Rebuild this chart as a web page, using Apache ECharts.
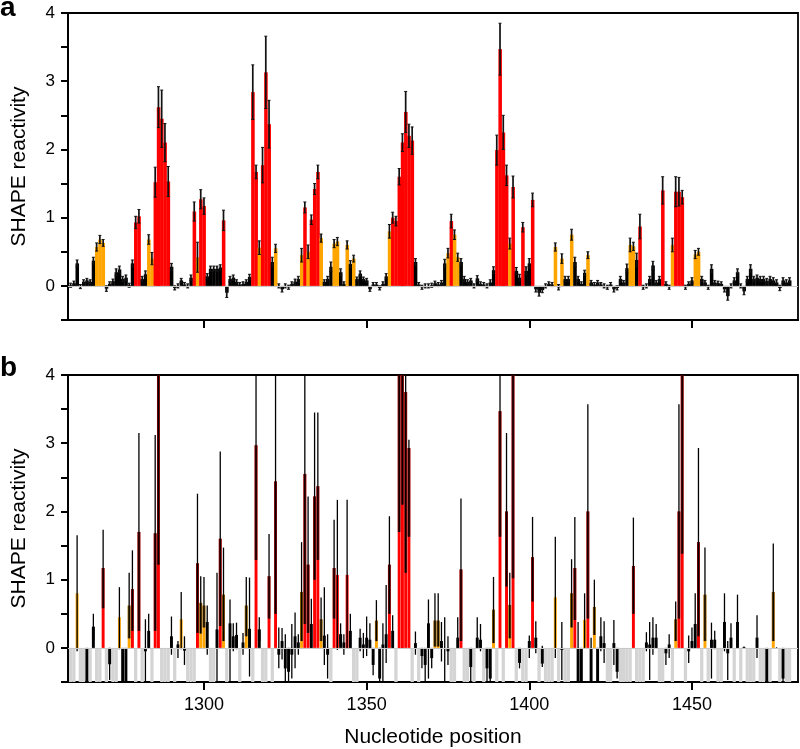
<!DOCTYPE html>
<html>
<head>
<meta charset="utf-8">
<script src="https://cdn.jsdelivr.net/npm/echarts@6/dist/echarts.min.js"></script>
<style>
  html, body { margin: 0; background: #fff; }
  #chart { width: 800px; height: 749px; }
</style>
</head>
<body>
<div id="chart"></div>
<script>
// nucleotide numbering of the first bar
const firstNt = 1259;
const xTicks = [1300, 1350, 1400, 1450];

// panel a: SHAPE reactivity and its error, one value per nucleotide (1259-1480)
const aVal = [
  0.01, 0.04, 0.33, -0.01, 0.06, 0.08, 0.06, 0.37, 0.57, 0.68,
  0.63, -0.04, 0.03, 0.07, 0.2, 0.24, 0.1, 0.12, 0.01, 0.33,
  0.93, 1.02, 0.1, 0.17, 0.68, 0.4, 1.52, 2.62, 2.45, 2.1,
  1.53, 0.28, -0.03, 0.0, 0.08, 0.02, 0.0, 0.12, 1.09, 0.42,
  1.27, 1.17, 0.14, 0.25, 0.25, 0.25, 0.27, 0.96, -0.1, 0.1,
  0.12, 0.06, 0.02, 0.03, 0.06, 0.13, 2.84, 1.67, 0.56, 1.77,
  3.13, 2.37, 0.35, 0.55, 0.0, -0.05, 0.0, -0.02, 0.03, 0.06,
  0.1, 0.45, 1.15, 0.5, 0.97, 1.42, 1.67, 0.7, 0.06, 0.1,
  0.28, 0.62, 0.65, 0.2, 0.03, 0.6, 0.32, 0.4, 0.1, 0.18,
  0.1, 0.08, -0.05, 0.02, 0.02, -0.03, 0.03, 0.14, 0.8, 1.0,
  0.95, 1.6, 2.1, 2.55, 2.2, 2.13, 0.35, 0.02, -0.02, 0.0,
  0.0, 0.01, 0.04, 0.02, 0.05, 0.33, 0.48, 0.95, 0.75, 0.42,
  0.35, 0.1, 0.06, 0.08, 0.0, 0.11, 0.03, 0.02, 0.0, 0.05,
  0.23, 1.99, 3.47, 2.25, 1.62, 0.62, 1.45, 0.22, 0.12, 0.86,
  0.22, 0.33, 1.26, -0.05, -0.1, -0.06, 0.0, 0.03, 0.02, 0.57,
  -0.02, 0.4, 0.1, 0.1, 0.75, 0.35, 0.1, 0.03, 0.19, 0.45,
  0.05, 0.02, 0.05, 0.02, 0.0, -0.02, 0.02, -0.05, -0.03, 0.1,
  0.05, 0.26, 0.6, 0.58, 0.38, 0.87, -0.02, 0.0, 0.1, 0.3,
  0.05, 0.1, 1.4, 0.03, -0.02, 0.6, 1.38, 1.38, 1.3, -0.02,
  0.03, 0.08, 0.46, 0.5, 0.1, 0.05, -0.02, 0.25, 0.05, 0.04,
  0.03, -0.05, -0.15, 0.0, 0.08, 0.2, 0.0, -0.08, 0.1, 0.25,
  0.1, 0.12, 0.1, 0.1, 0.07, 0.1, 0.08, 0.05, -0.03, 0.08,
  0.05, 0.08
];
const aErr = [
  0.03, 0.03, 0.05, 0.03, 0.03, 0.03, 0.03, 0.05, 0.06, 0.06,
  0.05, 0.04, 0.03, 0.03, 0.05, 0.05, 0.04, 0.04, 0.03, 0.05,
  0.09, 0.1, 0.04, 0.05, 0.07, 0.09, 0.22, 0.3, 0.42, 0.28,
  0.22, 0.05, 0.03, 0.03, 0.03, 0.03, 0.03, 0.04, 0.14, 0.22,
  0.14, 0.12, 0.04, 0.04, 0.04, 0.04, 0.04, 0.15, 0.07, 0.04,
  0.04, 0.03, 0.03, 0.03, 0.03, 0.04, 0.4, 0.1, 0.1, 0.26,
  0.53, 0.35, 0.07, 0.06, 0.03, 0.04, 0.03, 0.03, 0.03, 0.04,
  0.04, 0.1, 0.08, 0.1, 0.07, 0.08, 0.1, 0.06, 0.03, 0.04,
  0.07, 0.06, 0.06, 0.05, 0.03, 0.06, 0.05, 0.05, 0.03, 0.04,
  0.03, 0.03, 0.03, 0.03, 0.03, 0.03, 0.03, 0.04, 0.1, 0.08,
  0.07, 0.12, 0.13, 0.3, 0.17, 0.2, 0.05, 0.03, 0.03, 0.03,
  0.03, 0.03, 0.03, 0.03, 0.03, 0.06, 0.07, 0.1, 0.07, 0.06,
  0.05, 0.04, 0.03, 0.03, 0.03, 0.04, 0.03, 0.03, 0.03, 0.04,
  0.05, 0.22, 0.38, 0.25, 0.15, 0.08, 0.16, 0.05, 0.05, 0.07,
  0.06, 0.07, 0.1, 0.04, 0.05, 0.04, 0.03, 0.03, 0.03, 0.06,
  0.04, 0.07, 0.04, 0.04, 0.08, 0.07, 0.04, 0.03, 0.04, 0.05,
  0.03, 0.03, 0.03, 0.03, 0.03, 0.03, 0.03, 0.04, 0.03, 0.04,
  0.03, 0.06, 0.1, 0.06, 0.1, 0.18, 0.03, 0.03, 0.04, 0.06,
  0.03, 0.04, 0.2, 0.03, 0.03, 0.1, 0.22, 0.21, 0.1, 0.03,
  0.03, 0.04, 0.06, 0.05, 0.04, 0.03, 0.03, 0.06, 0.03, 0.03,
  0.03, 0.04, 0.06, 0.03, 0.04, 0.05, 0.03, 0.05, 0.04, 0.06,
  0.04, 0.04, 0.04, 0.04, 0.04, 0.04, 0.04, 0.04, 0.04, 0.04,
  0.04, 0.04
];

// panel b: value, lower and upper end of the error bar (null = no data, grey stripe)
const bVal = [
  null, null, 0.8, null, null, -0.55, null, 0.31, null, null,
  1.17, null, -0.24, null, null, 0.45, -0.6, -0.6, 0.62, 0.86,
  null, 1.7, null, -0.05, 0.25, null, 1.68, 4.4, null, null,
  null, 0.17, null, 0.05, 0.42, -0.04, null, null, null, 1.24,
  0.66, 0.62, 0.38, null, null, 0.27, 1.6, 0.78, null, 0.36,
  0.17, 0.19, null, 0.08, 0.62, 0.28, null, 2.97, 0.27, null,
  null, 1.05, null, 2.44, -0.1, 0.1, -0.3, -0.35, -0.1, 0.17,
  0.08, 0.82, 2.55, 1.22, 0.35, 2.22, 2.37, 0.42, 0.18, -0.1,
  null, 1.17, 1.07, 0.2, 0.08, 1.07, 0.25, null, null, 0.15,
  0.05, 0.15, 0.12, -0.25, 0.4, -0.45, 0.05, 0.2, 1.22, 0.25,
  null, 4.3, 4.5, 3.75, 2.93, null, 0.07, null, -0.12, -0.25,
  0.36, -0.15, 0.4, 0.4, 0.1, 0.0, -0.05, null, null, 0.15,
  1.15, null, null, -0.28, null, 0.15, 0.12, null, -0.3, -0.45,
  0.56, null, 3.47, null, 2.0, 0.63, 4.5, null, -0.22, null,
  null, 0.1, 1.33, 0.15, null, -0.23, null, null, null, 0.74,
  null, -0.03, null, null, 0.8, 1.17, -0.5, -0.5, 0.41, 2.0,
  -0.5, 0.6, -0.5, 0.17, 0.07, null, null, 0.07, -0.35, null,
  null, null, null, 1.2, null, null, null, 0.08, 0.05, 0.15,
  0.15, null, null, -0.08, 0.05, null, 0.42, 2.0, 4.5, null,
  -0.05, 0.1, 0.35, 1.55, null, 0.78, null, 0.12, 0.12, null,
  null, 0.38, -0.08, 0.15, null, 0.38, null, 0.01, null, null,
  null, 0.15, null, null, -0.5, null, 0.82, 0.0, null, -0.45,
  null, null
];
const bLo = [
  null, null, -0.05, null, null, -0.6, null, 0.12, null, null,
  0.58, null, -0.47, null, null, -0.02, -0.65, -0.65, 0.14, 0.25,
  null, 0.25, null, -0.5, 0.0, null, 0.25, 1.22, null, null,
  null, -0.1, null, -0.15, -0.02, -0.25, null, null, null, 0.22,
  0.21, 0.3, -0.1, null, null, -0.5, 0.32, 0.1, null, -0.5,
  -0.05, -0.02, null, -0.1, 0.17, -0.42, null, 1.29, 0.1, null,
  null, 0.43, null, 0.5, -0.3, -0.17, -0.5, -0.5, -0.45, -0.3,
  -0.1, 0.1, 0.35, 0.22, 0.0, 1.0, 1.29, 0.1, -0.25, -0.45,
  null, 0.43, -0.03, 0.05, -0.1, 0.0, 0.0, null, null, -0.05,
  -0.15, -0.12, 0.0, -0.4, 0.1, -0.5, -0.5, -0.22, 0.5, 0.0,
  null, 1.7, 2.1, 1.1, 1.63, null, -0.1, null, -0.3, -0.5,
  -0.45, -0.3, 0.02, 0.02, -0.2, -0.5, -0.25, null, null, 0.0,
  0.1, null, null, -0.5, null, 0.0, -0.05, null, -0.5, -0.5,
  0.07, null, 1.63, null, 0.9, 0.14, 1.02, null, -0.3, null,
  null, -0.15, 0.68, -0.08, null, -0.28, null, null, null, -0.15,
  null, -0.47, null, null, 0.3, 0.41, -0.55, -0.6, 0.0, 0.43,
  -0.55, 0.19, -0.55, -0.05, -0.22, null, null, -0.25, -0.45, null,
  null, null, null, 0.5, null, null, null, -0.05, -0.47, -0.1,
  0.0, null, null, -0.25, -0.15, null, 0.1, 0.43, 1.38, null,
  -0.22, 0.0, 0.0, 0.17, null, 0.1, null, -0.45, -0.02, null,
  null, -0.05, -0.47, 0.0, null, 0.0, null, 0.0, null, null,
  null, -0.15, null, null, -0.55, null, 0.1, 0.0, null, -0.5,
  null, null
];
const bHi = [
  null, null, 1.65, null, null, -0.3, null, 0.5, null, null,
  1.73, null, 0.0, null, null, 0.89, -0.45, -0.45, 1.1, 1.43,
  null, 3.15, null, 0.42, 0.5, null, 3.12, 7.0, null, null,
  null, 0.46, null, 0.1, 0.82, 0.17, null, null, null, 2.26,
  1.05, 1.04, 0.62, null, null, 1.1, 2.88, 1.47, null, 0.71,
  0.36, 0.37, null, 0.22, 1.04, 1.03, null, 4.7, 0.45, null,
  null, 1.67, null, 4.5, 0.3, 0.29, 0.2, 0.0, 0.35, 0.52,
  0.2, 1.55, 4.75, 2.22, 0.72, 3.45, 3.45, 0.74, 0.89, 0.2,
  null, 1.88, 2.17, 0.36, 0.2, 2.17, 0.5, null, null, 0.28,
  0.22, 0.46, 0.36, 0.0, 0.7, 0.0, 0.36, 0.92, 1.93, 0.48,
  null, 7.0, 7.0, 5.0, 3.05, null, 0.24, null, 0.0, 0.0,
  0.71, 0.0, 0.8, 0.8, 0.38, 0.45, 0.17, null, null, 0.45,
  2.19, null, null, 0.0, null, 0.45, 0.35, null, 0.0, 0.0,
  1.04, null, 5.3, null, 3.15, 1.1, 8.0, null, -0.1, null,
  null, 0.18, 1.92, 0.39, null, 0.03, null, null, null, 1.63,
  null, 0.38, null, null, 1.3, 1.92, 0.38, 0.0, 0.8, 3.57,
  0.15, 1.0, 0.0, 0.45, 0.39, null, null, 0.41, -0.05, null,
  null, null, null, 1.91, null, null, null, 0.23, 0.38, 0.45,
  0.35, null, null, 0.0, 0.2, null, 0.68, 3.57, 8.0, null,
  0.18, 0.3, 0.8, 2.93, null, 1.47, null, 0.37, 0.25, null,
  null, 0.8, 0.1, 0.36, null, 0.78, null, 0.02, null, null,
  null, 0.48, null, null, 0.0, null, 1.53, 0.01, null, 0.0,
  null, null
];

const yMin = -0.5, yMax = 4;
const RED = '#ff0000', ORANGE = '#ffa500', BLACK = '#000000';
const FONT = 'Liberation Sans, Arial, sans-serif';

function colorOf(v) {
  return v >= 0.85 ? RED : (v >= 0.4 ? ORANGE : BLACK);
}
function clampY(v) {
  return Math.max(yMin, Math.min(yMax, v));
}
function rectBetween(p, q) {
  return {
    x: Math.min(p[0], q[0]), y: Math.min(p[1], q[1]),
    width: Math.abs(q[0] - p[0]), height: Math.abs(q[1] - p[1])
  };
}

// build series data
const dataA = aVal.map((v, i) => [firstNt + i, v, aErr[i]]);
const dataB = [];
const dataGray = [];
bVal.forEach((v, i) => {
  const x = firstNt + i;
  if (v === null) dataGray.push([x, yMin]);
  else dataB.push([x, v, bLo[i], bHi[i]]);
});

// panel a bars (touching each other)
function renderBarA(params, api) {
  const x = api.value(0), v = api.value(1);
  const p = api.coord([x - 0.5, 0]);
  const q = api.coord([x + 0.5, clampY(v)]);
  q[0] += 0.3;
  return { type: 'rect', shape: rectBetween(p, q), style: { fill: colorOf(v) } };
}
// panel a error bars with small caps
function renderErrA(params, api) {
  const x = api.value(0), v = api.value(1), e = api.value(2);
  const top = api.coord([x, clampY(v + e)]);
  const bot = api.coord([x, clampY(v - e)]);
  const w = 1.5;
  return {
    type: 'group',
    children: [
      { type: 'line', shape: { x1: top[0], y1: top[1], x2: bot[0], y2: bot[1] }, style: { stroke: '#111', lineWidth: 1.7 } },
      { type: 'line', shape: { x1: top[0] - w, y1: top[1], x2: top[0] + w, y2: top[1] }, style: { stroke: '#111', lineWidth: 1 } },
      { type: 'line', shape: { x1: bot[0] - w, y1: bot[1], x2: bot[0] + w, y2: bot[1] }, style: { stroke: '#111', lineWidth: 1 } }
    ]
  };
}
// panel b grey stripes where there is no data
function renderGray(params, api) {
  const x = api.value(0);
  const p = api.coord([x - 0.5, 0]);
  const q = api.coord([x + 0.5, yMin]);
  return { type: 'rect', shape: rectBetween(p, q), style: { fill: '#d4d4d4' } };
}
// panel b bars, darkened between lower error end and the value
function renderBarB(params, api) {
  const x = api.value(0), v = api.value(1), lo = api.value(2);
  const p = api.coord([x - 0.45, 0]);
  const q = api.coord([x + 0.45, clampY(v)]);
  const children = [{ type: 'rect', shape: rectBetween(p, q), style: { fill: colorOf(v) } }];
  if (lo > 0 && v > lo) {
    const r = api.coord([x - 0.45, clampY(lo)]);
    children.push({ type: 'rect', shape: rectBetween(r, q), style: { fill: 'rgba(0,0,0,0.5)' } });
  }
  return { type: 'group', children: children };
}
function renderErrB(params, api) {
  const x = api.value(0), lo = api.value(2), hi = api.value(3);
  const top = api.coord([x, clampY(hi)]);
  const bot = api.coord([x, clampY(lo)]);
  return {
    type: 'line',
    shape: { x1: top[0], y1: top[1], x2: bot[0], y2: bot[1] },
    style: { stroke: '#000', lineWidth: 1.3 }
  };
}

function makeXAxis(gridIndex, showLabels) {
  return {
    type: 'value', gridIndex: gridIndex,
    min: 1258.2, max: 1482.6,
    axisLine: { show: true, onZero: false, lineStyle: { color: '#000', width: 2 } },
    axisTick: { show: true, inside: false, length: 8, customValues: xTicks, lineStyle: { color: '#000', width: 2 } },
    axisLabel: {
      show: showLabels, customValues: xTicks, color: '#000', fontSize: 18, fontFamily: FONT, margin: 14,
      formatter: v => String(Math.round(v))
    },
    splitLine: { show: false },
    name: showLabels ? 'Nucleotide position' : '',
    nameLocation: 'middle', nameGap: 45,
    nameTextStyle: { color: '#000', fontSize: 21, fontFamily: FONT }
  };
}
function makeYAxis(gridIndex) {
  return {
    type: 'value', gridIndex: gridIndex,
    min: yMin, max: yMax, interval: 0.5,
    axisLine: { show: true, onZero: false, lineStyle: { color: '#000', width: 2 } },
    axisTick: { show: true, inside: false, length: 7, lineStyle: { color: '#000', width: 2 } },
    axisLabel: {
      color: '#000', fontSize: 17, fontFamily: FONT, margin: 13,
      formatter: v => (Math.abs(v - Math.round(v)) < 1e-9 ? String(Math.round(v)) : '')
    },
    splitLine: { show: false },
    name: 'SHAPE reactivity', nameLocation: 'middle', nameGap: 38,
    nameTextStyle: { color: '#000', fontSize: 21, fontFamily: FONT }
  };
}

const zeroLine = {
  silent: true, symbol: 'none',
  label: { show: false },
  lineStyle: { color: '#c8c8c8', width: 1, type: 'solid' },
  data: [{ yAxis: 0 }]
};

const chart = echarts.init(document.getElementById('chart'), null, { renderer: 'canvas' });
chart.setOption({
  animation: false,
  backgroundColor: '#fff',
  grid: [
    { left: 68, top: 13, width: 730, height: 307, show: true, borderColor: '#000', borderWidth: 1.8 },
    { left: 68, top: 375, width: 730, height: 307, show: true, borderColor: '#000', borderWidth: 1.8 }
  ],
  xAxis: [makeXAxis(0, false), makeXAxis(1, true)],
  yAxis: [makeYAxis(0), makeYAxis(1)],
  graphic: [
    { type: 'text', left: 0, top: -6, style: { text: 'a', font: 'bold 28px ' + FONT, fill: '#000' } },
    { type: 'text', left: 0, top: 354, style: { text: 'b', font: 'bold 28px ' + FONT, fill: '#000' } }
  ],
  series: [
    { type: 'custom', xAxisIndex: 0, yAxisIndex: 0, data: dataA, encode: { x: 0, y: 1 }, renderItem: renderBarA, markLine: zeroLine, z: 2 },
    { type: 'custom', xAxisIndex: 0, yAxisIndex: 0, data: dataA, encode: { x: 0, y: 1 }, renderItem: renderErrA, z: 3 },
    { type: 'custom', xAxisIndex: 1, yAxisIndex: 1, data: dataGray, encode: { x: 0, y: 1 }, renderItem: renderGray, markLine: zeroLine, z: 1 },
    { type: 'custom', xAxisIndex: 1, yAxisIndex: 1, data: dataB, encode: { x: 0, y: 1 }, renderItem: renderBarB, z: 2 },
    { type: 'custom', xAxisIndex: 1, yAxisIndex: 1, data: dataB, encode: { x: 0, y: 1 }, renderItem: renderErrB, z: 3 }
  ]
});
</script>
</body>
</html>
